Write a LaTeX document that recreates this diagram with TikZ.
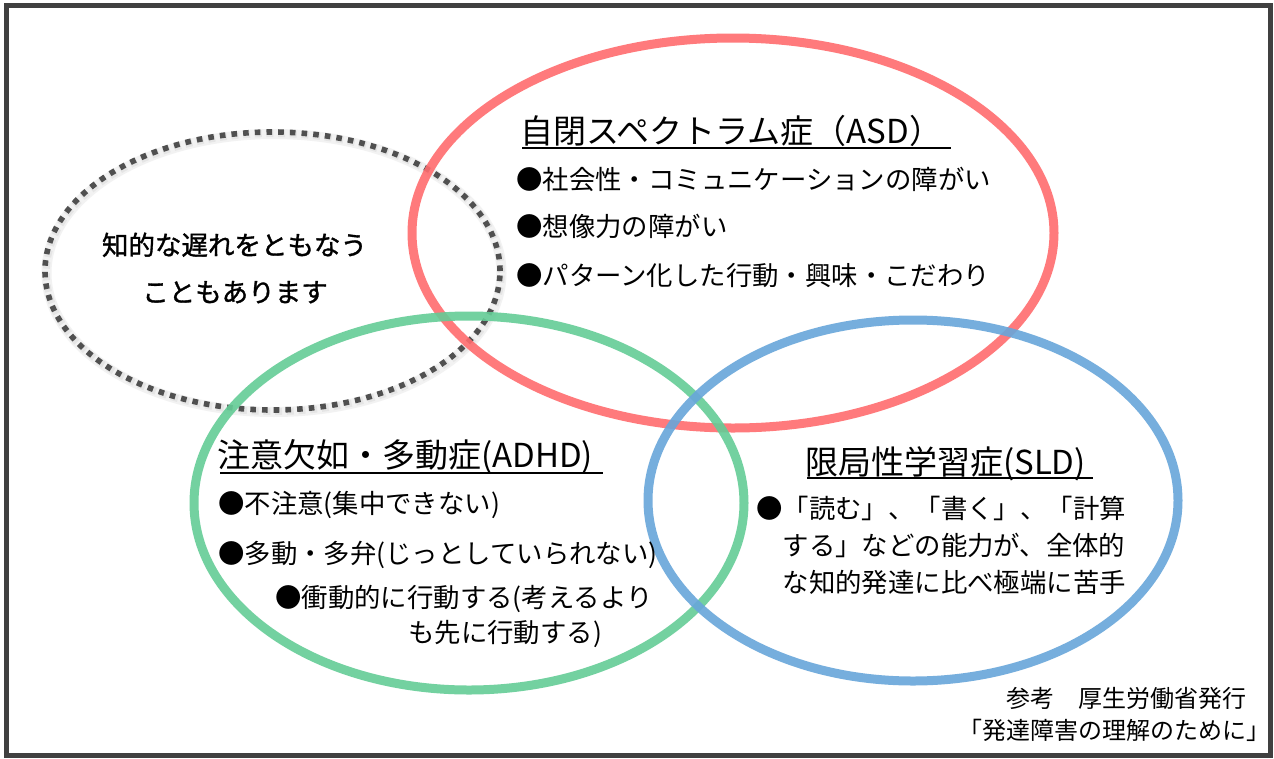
\documentclass[tikz,border=0pt]{standalone}
\usepackage{fontspec}
\setmainfont{Noto Sans CJK JP}
\newfontfamily\jpb[FakeBold=1.2]{Noto Sans CJK JP}
\definecolor{asdred}{RGB}{255,108,110}
\definecolor{adhdgreen}{RGB}{100,204,150}
\definecolor{sldblue}{RGB}{104,166,218}
\definecolor{framegray}{RGB}{64,64,64}
\definecolor{dotgray}{RGB}{80,80,80}
\tikzset{
  ttl/.style={anchor=base west, inner sep=0pt, font=\fontsize{33}{36}\selectfont},
  txt/.style={anchor=base west, inner sep=0pt, font=\fontsize{26.4}{30}\selectfont},
  note/.style={anchor=base, inner sep=0pt, font=\jpb\fontsize{26.5}{30}\selectfont},
  src/.style={anchor=base west, inner sep=0pt, font=\fontsize{24}{28}\selectfont},
  ring/.style={line width=9pt, opacity=0.9},
  uline/.style={line width=2pt, black},
}
\begin{document}
\begin{tikzpicture}[x=1pt, y=-1pt]
\useasboundingbox (0,0) rectangle (1274,758);
\fill[white] (0,0) rectangle (1274,758);
% frame
\draw[framegray, line width=5pt] (6.5,5) rectangle (1270,755.5);
% dotted ellipse with soft shadow
\draw[black!5, line width=10pt] (274,273) ellipse [x radius=227.5pt, y radius=139pt];
\draw[black!10, line width=7pt, dash pattern=on 7pt off 4.7pt] (273.8,272.5) ellipse [x radius=227.5pt, y radius=139pt];
\draw[dotgray, line width=5.6pt, dash pattern=on 5.6pt off 6.1pt] (272.5,271) ellipse [x radius=227.5pt, y radius=139pt];
% coloured ellipses
\draw[ring, asdred] (733,233) ellipse [x radius=321pt, y radius=195pt];
\draw[ring, adhdgreen] (469,503) ellipse [x radius=275pt, y radius=187pt];
\draw[ring, sldblue] (913,500.5) ellipse [x radius=265pt, y radius=180.5pt];
% note in dotted ellipse
\node[note] (n1) at (234.5,255) {知的な遅れをともなう};
\node[note] (n2) at (235,302) {こともあります};
% ASD
\node[ttl] (asd) at (520,143.7) {自閉スペクトラム症（ASD）};
\draw[uline] (522,148) -- (951,148);
\node[txt] (a1) at (516,189.5) {●社会性・コミュニケーションの障がい};
\node[txt] (a2) at (516,236.5) {●想像力の障がい};
\node[txt] (a3) at (516,285) {●パターン化した行動・興味・こだわり};
% ADHD
\node[ttl] (adhd) at (217,467) {注意欠如・多動症(ADHD)};
\draw[uline] (220,473) -- (603,473);
\node[txt] (d1) at (218,513) {●不注意(集中できない)};
\node[txt] (d2) at (218,563) {●多動・多弁(じっとしていられない)};
\node[txt] (d3) at (275,607) {●衝動的に行動する(考えるより};
\node[txt] (d4) at (408,642) {も先に行動する)};
% SLD
\node[ttl] (sld) at (805,474) {限局性学習症(SLD)};
\draw[uline] (807,477.5) -- (1093,477.5);
\node[txt] (s1) at (756,518) {●「読む」、「書く」、「計算};
\node[txt] (s2) at (782.4,555) {する」などの能力が、全体的};
\node[txt] (s3) at (782.4,592) {な知的発達に比べ極端に苦手};
% source
\node[src] (r1) at (1006,707) {参考　厚生労働省発行};
\node[src] (r2) at (958,739) {「発達障害の理解のために」};
\end{tikzpicture}
\end{document}
